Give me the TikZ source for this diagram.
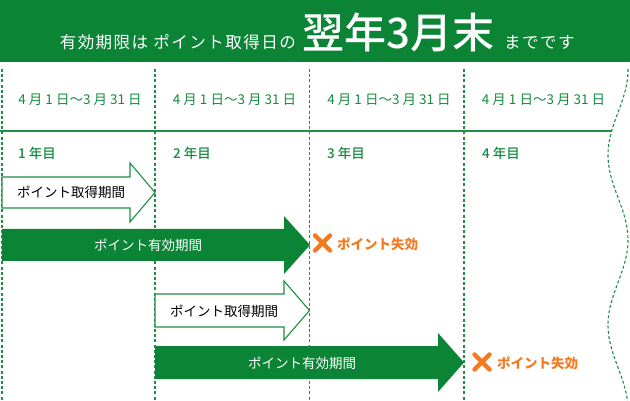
\documentclass[tikz,border=0pt]{standalone}
\usepackage{fontspec}
\setmainfont{Noto Sans CJK JP}
\newfontfamily\medfont{Noto Sans CJK JP}[UprightFont={* Medium}]
\usetikzlibrary{calc}
\definecolor{hdgreen}{HTML}{0B8436}
\definecolor{lngreen}{HTML}{1E8F45}
\definecolor{txgreen}{HTML}{168A40}
\definecolor{xorange}{HTML}{F47A1F}
\tikzset{
  gridline/.style={lngreen, line width=1.1pt, dash pattern=on 3pt off 2.2pt},
  datelbl/.style={txgreen, font=\fontsize{13.5}{14}\selectfont, inner sep=0pt},
  yearlbl/.style={txgreen, font=\medfont\fontsize{13.5}{14}\selectfont, anchor=west, inner sep=0pt},
  outarrow/.style={draw=lngreen, fill=white, line width=1.1pt},
  fillarrow/.style={fill=hdgreen},
  arrtxt/.style={font=\fontsize{13.5}{14}\selectfont, inner sep=0pt},
  xmark/.style={xorange, line width=4.5pt, line cap=round},
  lapse/.style={xorange, font=\bfseries\fontsize{13.5}{14}\selectfont, anchor=west, inner sep=0pt},
  hdsmall/.style={white, inner sep=0pt, font=\fontsize{16.5}{17}\selectfont\addfontfeature{LetterSpace=9}},
}
\begin{document}
\begin{tikzpicture}[x=1pt,y=-1pt]
\useasboundingbox (0,0) rectangle (630,401);
% header
\fill[hdgreen] (0,0) rectangle (630,62.5);
\node[hdsmall, anchor=base east] (hd1) at (296,49) {有効期限は ポイント取得日の};
\node[white, anchor=base west, inner sep=0pt, font=\medfont\fontsize{42}{44}\selectfont] (hd2) at (302,49) {翌年3月末};
\node[hdsmall, anchor=base west] (hd3) at (504,49) {までです};
% grid
\foreach \gx in {2,155,309.5,464} {\draw[gridline] (\gx,69) -- (\gx,401);}
\draw[lngreen, line width=1.3pt] (0,131) -- (611.7,131);
\draw[gridline] plot[domain=69:401, samples=90, smooth] ({618+10*cos((\x-240)/170*360)}, \x);
% dates
\node[datelbl] (d1) at (80,100) {4 月 1 日～3 月 31 日};
\node[datelbl] (d2) at (234.5,100) {4 月 1 日～3 月 31 日};
\node[datelbl] (d3) at (389,100) {4 月 1 日～3 月 31 日};
\node[datelbl] (d4) at (543.5,100) {4 月 1 日～3 月 31 日};
% years
\node[yearlbl] (y1) at (18,153) {1 年目};
\node[yearlbl] (y2) at (173,153) {2 年目};
\node[yearlbl] (y3) at (327,153) {3 年目};
\node[yearlbl] (y4) at (482,153) {4 年目};
% arrows
\draw[outarrow] (2,177) -- (130,177) -- (130,163) -- (155,192.5) -- (130,222) -- (130,208) -- (2,208) -- cycle;
\node[arrtxt] (a1) at (71,192) {ポイント取得期間};
\fill[fillarrow] (2,229) -- (284,229) -- (284,216) -- (310,245) -- (284,274) -- (284,261) -- (2,261) -- cycle;
\node[arrtxt, white] (a2) at (148,245) {ポイント有効期間};
\draw[outarrow] (155,294) -- (284,294) -- (284,281) -- (309.5,310.5) -- (284,340) -- (284,327) -- (155,327) -- cycle;
\node[arrtxt] (a3) at (224,311) {ポイント取得期間};
\fill[fillarrow] (155,346) -- (438,346) -- (438,333) -- (464,362.5) -- (438,392) -- (438,379) -- (155,379) -- cycle;
\node[arrtxt, white] (a4) at (302,363) {ポイント有効期間};
% lapse marks
\coordinate (x1) at (322.5,243);
\draw[xmark] ($(x1)+(-7.5,-7.5)$) -- ($(x1)+(7.5,7.5)$) ($(x1)+(7.5,-7.5)$) -- ($(x1)+(-7.5,7.5)$);
\node[lapse] (l1) at (337,244) {ポイント失効};
\coordinate (x2) at (482,362);
\draw[xmark] ($(x2)+(-7.5,-7.5)$) -- ($(x2)+(7.5,7.5)$) ($(x2)+(7.5,-7.5)$) -- ($(x2)+(-7.5,7.5)$);
\node[lapse] (l2) at (497,363) {ポイント失効};
\end{tikzpicture}
\end{document}
